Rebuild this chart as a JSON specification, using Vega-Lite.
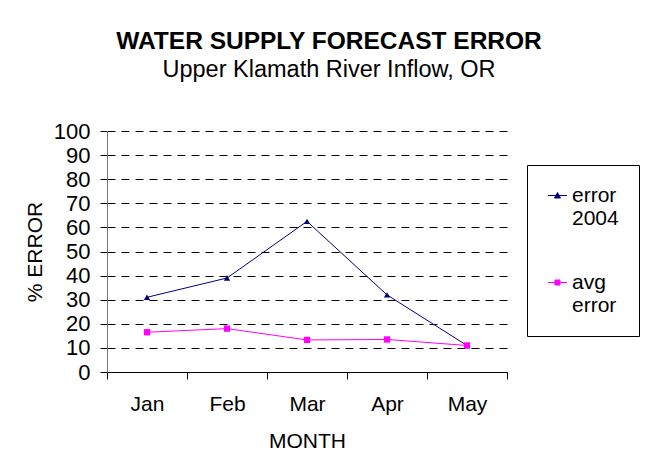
{
  "$schema": "https://vega.github.io/schema/vega-lite/v6.json",
  "width": 400,
  "height": 241,
  "autosize": {"type": "none"},
  "padding": {"left": 107, "top": 131, "right": 151, "bottom": 90},
  "background": "white",
  "config": {"font": "Liberation Sans", "view": {"stroke": null}},
  "title": {
    "text": "WATER SUPPLY FORECAST ERROR",
    "subtitle": "Upper Klamath River Inflow, OR",
    "fontSize": 24.5,
    "fontWeight": "bold",
    "subtitleFontSize": 23.5,
    "color": "black",
    "subtitleColor": "black",
    "anchor": "middle",
    "dx": 22,
    "offset": 38,
    "subtitlePadding": 3
  },
  "data": {
    "values": [
      {"month": "Jan", "series": "error 2004", "value": 31},
      {"month": "Feb", "series": "error 2004", "value": 39},
      {"month": "Mar", "series": "error 2004", "value": 62.5},
      {"month": "Apr", "series": "error 2004", "value": 32},
      {"month": "May", "series": "error 2004", "value": 11},
      {"month": "Jan", "series": "avg error", "value": 16.5},
      {"month": "Feb", "series": "avg error", "value": 18},
      {"month": "Mar", "series": "avg error", "value": 13.3},
      {"month": "Apr", "series": "avg error", "value": 13.5},
      {"month": "May", "series": "avg error", "value": 11}
    ]
  },
  "encoding": {
    "x": {
      "field": "month",
      "type": "ordinal",
      "sort": ["Jan", "Feb", "Mar", "Apr", "May"],
      "scale": {"type": "band", "paddingInner": 0, "paddingOuter": 0},
      "axis": {
        "title": "MONTH",
        "titleFontSize": 21,
        "titleFontWeight": "normal",
        "titleColor": "black",
        "titlePadding": 16,
        "labelAngle": 0,
        "labelFontSize": 21,
        "labelColor": "black",
        "labelPadding": 14,
        "tickBand": "extent",
        "tickSize": 7,
        "tickColor": "black",
        "domainColor": "black",
        "grid": false
      }
    },
    "y": {
      "field": "value",
      "type": "quantitative",
      "scale": {"domain": [0, 100]},
      "axis": {
        "title": "% ERROR",
        "titleFontSize": 21,
        "titleFontWeight": "normal",
        "titleColor": "black",
        "titlePadding": 8,
        "values": [0, 10, 20, 30, 40, 50, 60, 70, 80, 90, 100],
        "labelFontSize": 22,
        "labelColor": "black",
        "labelPadding": 10,
        "tickSize": 7,
        "tickColor": "black",
        "domainColor": "#777777",
        "grid": true,
        "gridColor": "black",
        "gridDash": [8, 6],
        "gridOpacity": 1
      }
    }
  },
  "layer": [
    {
      "mark": {"type": "line", "strokeWidth": 1},
      "encoding": {
        "color": {
          "field": "series",
          "type": "nominal",
          "scale": {"domain": ["error 2004", "avg error"], "range": ["#000080", "#FF00FF"]},
          "legend": {
            "title": null,
            "orient": "none",
            "legendX": 420,
            "legendY": 34,
            "strokeColor": "black",
            "padding": 20,
            "rowPadding": 42,
            "labelFontSize": 21,
            "labelColor": "black",
            "labelLimit": 0,
            "labelExpr": "split(datum.label, ' ')",
            "symbolSize": 100,
            "encode": {
              "symbols": {
                "update": {
                  "shape": {"signal": "datum.value === 'error 2004' ? 'M-1.9,0H1.9M0,-0.6L0.6,0.5L-0.6,0.5Z' : 'M-1.9,0H1.9M-0.5,-0.5H0.5V0.5H-0.5Z'"},
                  "stroke": {"signal": "datum.value === 'error 2004' ? '#000080' : '#FF00FF'"},
                  "fill": {"signal": "datum.value === 'error 2004' ? '#000080' : '#FF00FF'"},
                  "strokeWidth": {"value": 1},
                  "opacity": {"value": 1}
                }
              }
            }
          }
        }
      }
    },
    {
      "transform": [{"filter": "datum.series === 'error 2004'"}],
      "mark": {"type": "point", "filled": true, "opacity": 1, "size": 40, "shape": "triangle-up", "color": "#000080"}
    },
    {
      "transform": [{"filter": "datum.series === 'avg error'"}],
      "mark": {"type": "point", "filled": true, "opacity": 1, "size": 40, "shape": "square", "color": "#FF00FF"}
    }
  ]
}
